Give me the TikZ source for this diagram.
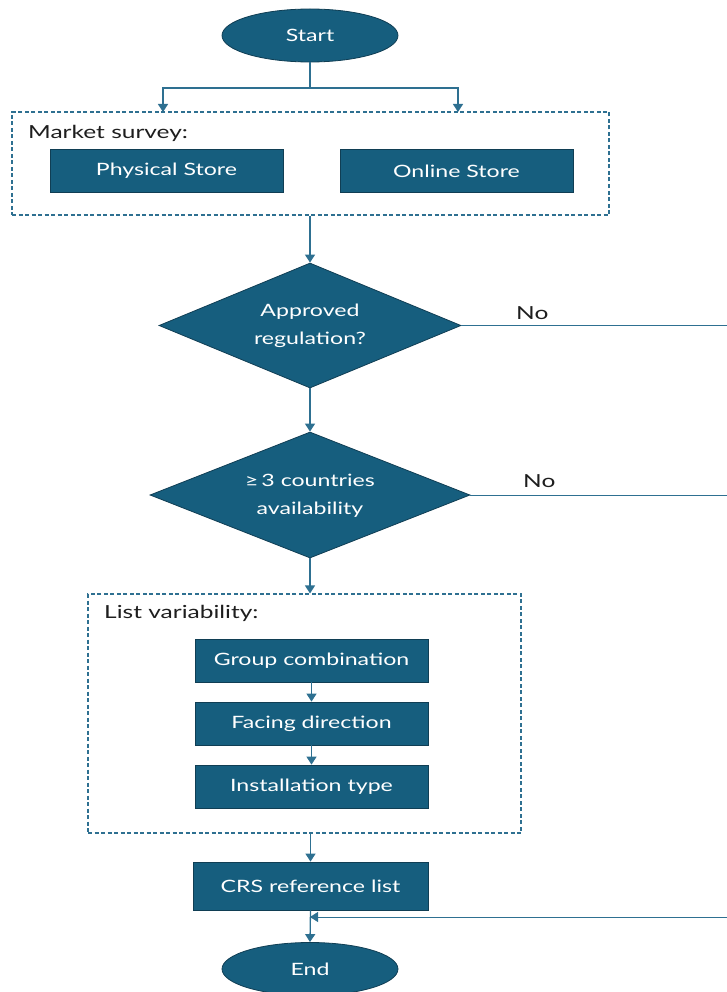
\documentclass[tikz,border=0pt]{standalone}
\usepackage{fontspec}
\setmainfont{Lato}[FakeStretch=1.36]
\usetikzlibrary{shapes.geometric,arrows.meta}
\definecolor{fillc}{RGB}{22,94,126}
\definecolor{edgec}{RGB}{16,62,84}
\definecolor{linec}{RGB}{46,112,145}
\definecolor{txt}{RGB}{30,30,30}
\tikzset{
  shp/.style={fill=fillc,draw=edgec,line width=0.8pt,text=white,inner sep=0pt,
    font=\fontsize{17}{28}\selectfont,align=center},
  box/.style={shp,rectangle,minimum width=233,minimum height=43},
  oval/.style={shp,ellipse,minimum width=176,minimum height=53},
  dia/.style={shp,diamond,aspect=2.4},
  dbox/.style={draw=linec,dashed,dash pattern=on 4pt off 2.5pt,line width=1.1pt,inner sep=0pt},
  lbl/.style={text=txt,font=\fontsize{18}{20}\selectfont,inner sep=0pt,anchor=west},
  conn/.style={draw=linec,line width=1.3pt},
  arr/.style={conn,-{Triangle[width=10pt,length=8pt]}},
}
\begin{document}
\begin{tikzpicture}[x=1pt,y=-1pt]
\useasboundingbox (0,0) rectangle (726,992);
% start
\node[oval] (start) at (310,35.5) {Start};
% market survey
\node[dbox,minimum width=597,minimum height=103] (ms) at (310.5,163.5) {};
\node[lbl] (mslbl) at (28,133) {Market survey:};
\node[box] (phys) at (166.5,171) {Physical Store};
\node[box] (online) at (456.5,171) {Online Store};
\coordinate (fork) at (310,88);
\coordinate (ms1) at (163,112);
\coordinate (ms2) at (458,112);
\draw[conn] (start.south) -- (fork);
\draw[arr] (fork) -| (ms1);
\draw[arr] (fork) -| (ms2);
% decisions
\node[dia,minimum width=302,minimum height=125] (d1) at (310,325.5) {\rule{0pt}{14pt}Approved\\regulation?};
\node[dia,minimum width=320,minimum height=126] (d2) at (310,495) {\rule{0pt}{14pt}≥\,3 countries\\availability};
\draw[arr] (ms.south -| d1.north) -- (d1.north);
\draw[arr] (d1.south) -- (d2.north);
\node[lbl] (no1) at (516,313) {No};
\node[lbl] (no2) at (523,481) {No};
% list variability
\node[dbox,minimum width=433,minimum height=239] (lv) at (304.5,713.5) {};
\node[lbl] (lvlbl) at (104,613) {List variability:};
\draw[arr] (d2.south) -- (lv.north -| d2.south);
\node[box] (g1) at (311.5,660.5) {Group combination};
\node[box] (g2) at (311.5,723.5) {Facing direction};
\node[box] (g3) at (311.5,786.5) {Installation type};
\draw[arr] (g1) -- (g2);
\draw[arr] (g2) -- (g3);
% CRS
\node[box,minimum width=235,minimum height=48] (crs) at (310.5,886) {CRS reference list};
\draw[arr] (lv.south -| crs.north) -- (crs.north);
\node[oval] (end) at (310,969) {End};
\draw[arr] (crs.south) -- (end.north);
% No branches
\coordinate (r1) at (740,325.5);
\coordinate (r3) at (740,917);
\coordinate (join) at (310,917);
\draw[conn,line width=1pt] (d1.east) -- (r1);
\draw[conn,line width=1pt] (d2.east) -- (d2.east -| r1);
\draw[arr,line width=1pt] (r1) -- (r3) -- (join);
\end{tikzpicture}
\end{document}
